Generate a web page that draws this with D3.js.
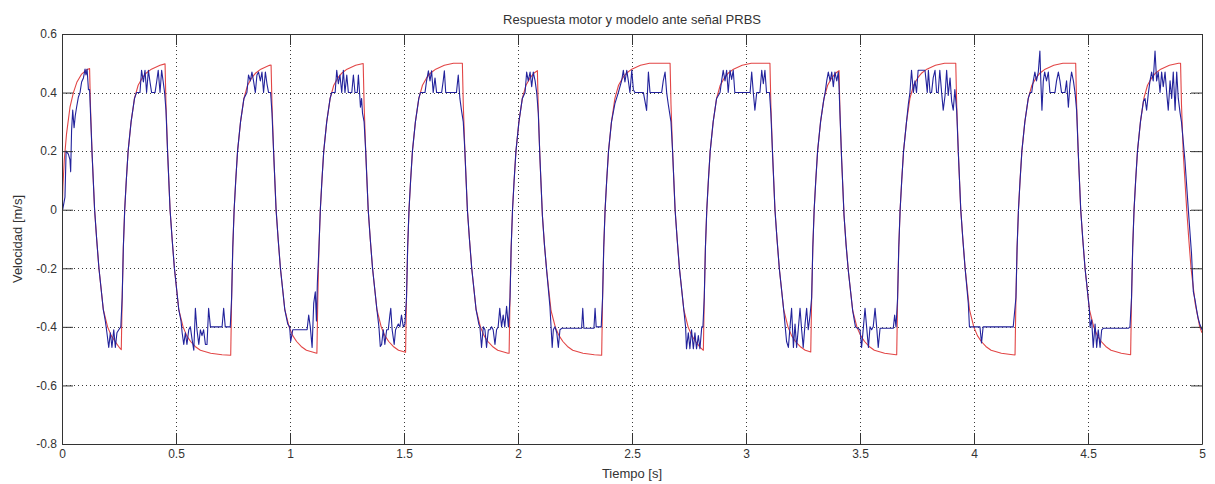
<!DOCTYPE html>
<html>
<head>
<meta charset="utf-8">
<script src="https://cdn.jsdelivr.net/npm/d3@7"></script>
<style>
  html, body { margin: 0; padding: 0; background: #fff; }
  svg { display: block; }
  text { font-family: "Liberation Sans", Arial, Helvetica, sans-serif; fill: #333; }
</style>
</head>
<body>
<svg id="chart" width="1215" height="484"></svg>
<script>
// Axis ticks and labels
const xTicks = [0, 0.5, 1, 1.5, 2, 2.5, 3, 3.5, 4, 4.5, 5];
const xTickLabels = ["0", "0.5", "1", "1.5", "2", "2.5", "3", "3.5", "4", "4.5", "5"];
const yTicks = [-0.8, -0.6, -0.4, -0.2, 0, 0.2, 0.4, 0.6];
const yTickLabels = ["-0.8", "-0.6", "-0.4", "-0.2", "0", "0.2", "0.4", "0.6"];

const titleText = "Respuesta motor y modelo ante señal PRBS";
const xLabelText = "Tiempo [s]";
const yLabelText = "Velocidad [m/s]";

// Model response [time s, speed m/s]
const modelo = [
  [0,-0.03],[0.004,0.08],[0.01,0.17],[0.02,0.26],[0.035,0.35],[0.05,0.4],[0.065,0.435],[0.085,0.462],[0.105,0.476],[0.121,0.482],
  [0.125,0.35],[0.132,0.19],[0.143,0],[0.152,-0.1],[0.162,-0.2],[0.181,-0.34],[0.2,-0.4],[0.216,-0.43],[0.233,-0.45],[0.253,-0.472],[0.26,-0.478],
  [0.264,-0.3],[0.269,-0.13],[0.275,0],[0.282,0.1],[0.29,0.2],[0.303,0.3],[0.318,0.38],[0.334,0.425],[0.352,0.45],[0.37,0.467],[0.392,0.48],[0.43,0.493],[0.452,0.498],
  [0.456,0.36],[0.463,0.2],[0.474,0],[0.483,-0.1],[0.493,-0.2],[0.512,-0.34],[0.531,-0.4],[0.547,-0.43],[0.564,-0.45],[0.584,-0.467],[0.607,-0.48],[0.652,-0.49],[0.702,-0.495],[0.74,-0.497],
  [0.744,-0.3],[0.749,-0.13],[0.755,0],[0.762,0.1],[0.77,0.2],[0.783,0.3],[0.798,0.38],[0.814,0.425],[0.832,0.45],[0.85,0.467],[0.872,0.48],[0.91,0.493],[0.917,0.494],
  [0.921,0.36],[0.928,0.2],[0.939,0],[0.948,-0.1],[0.958,-0.2],[0.977,-0.34],[0.996,-0.4],[1.012,-0.43],[1.029,-0.45],[1.049,-0.467],[1.072,-0.48],[1.117,-0.49],[1.118,-0.49],
  [1.122,-0.3],[1.127,-0.13],[1.133,0],[1.14,0.1],[1.148,0.2],[1.161,0.3],[1.176,0.38],[1.192,0.425],[1.21,0.45],[1.228,0.467],[1.25,0.48],[1.288,0.493],[1.321,0.499],
  [1.325,0.36],[1.332,0.2],[1.343,0],[1.352,-0.1],[1.362,-0.2],[1.381,-0.34],[1.4,-0.4],[1.416,-0.43],[1.433,-0.45],[1.453,-0.467],[1.476,-0.48],[1.507,-0.487],
  [1.511,-0.3],[1.516,-0.13],[1.522,0],[1.529,0.1],[1.537,0.2],[1.55,0.3],[1.565,0.38],[1.581,0.425],[1.599,0.45],[1.617,0.467],[1.639,0.48],[1.677,0.493],[1.717,0.5],[1.756,0.5],
  [1.76,0.36],[1.767,0.2],[1.778,0],[1.787,-0.1],[1.797,-0.2],[1.816,-0.34],[1.835,-0.4],[1.851,-0.43],[1.868,-0.45],[1.888,-0.467],[1.911,-0.48],[1.956,-0.49],[1.961,-0.49],
  [1.965,-0.3],[1.97,-0.13],[1.976,0],[1.983,0.1],[1.991,0.2],[2.004,0.3],[2.019,0.38],[2.035,0.425],[2.053,0.45],[2.071,0.467],[2.085,0.475],
  [2.089,0.34],[2.096,0.18],[2.107,-0.02],[2.116,-0.12],[2.126,-0.21],[2.145,-0.345],[2.164,-0.402],[2.18,-0.43],[2.197,-0.45],[2.217,-0.467],[2.24,-0.48],[2.285,-0.49],[2.335,-0.495],[2.367,-0.497],
  [2.371,-0.3],[2.376,-0.13],[2.382,0],[2.389,0.1],[2.397,0.2],[2.41,0.3],[2.425,0.38],[2.441,0.425],[2.459,0.45],[2.477,0.467],[2.499,0.48],[2.537,0.493],[2.577,0.5],[2.667,0.5],
  [2.671,0.36],[2.678,0.2],[2.689,0],[2.698,-0.1],[2.708,-0.2],[2.727,-0.34],[2.746,-0.4],[2.762,-0.43],[2.779,-0.45],[2.799,-0.47],[2.813,-0.48],
  [2.817,-0.3],[2.822,-0.13],[2.828,0],[2.835,0.1],[2.843,0.2],[2.856,0.3],[2.871,0.38],[2.887,0.425],[2.905,0.45],[2.923,0.467],[2.945,0.48],[2.983,0.493],[3.023,0.5],[3.105,0.5],
  [3.109,0.36],[3.116,0.2],[3.127,0],[3.136,-0.1],[3.146,-0.2],[3.165,-0.34],[3.184,-0.4],[3.2,-0.43],[3.217,-0.45],[3.237,-0.467],[3.26,-0.48],[3.284,-0.486],
  [3.288,-0.3],[3.293,-0.13],[3.299,0],[3.306,0.1],[3.314,0.2],[3.327,0.3],[3.342,0.38],[3.358,0.425],[3.376,0.45],[3.394,0.467],[3.408,0.475],
  [3.412,0.34],[3.419,0.18],[3.43,-0.02],[3.439,-0.12],[3.449,-0.21],[3.468,-0.345],[3.487,-0.402],[3.503,-0.43],[3.52,-0.45],[3.54,-0.467],[3.563,-0.48],[3.608,-0.49],[3.658,-0.495],[3.661,-0.495],
  [3.665,-0.3],[3.67,-0.13],[3.676,0],[3.683,0.1],[3.691,0.2],[3.704,0.3],[3.719,0.38],[3.735,0.425],[3.753,0.45],[3.771,0.467],[3.793,0.48],[3.831,0.493],[3.871,0.5],[3.92,0.5],
  [3.924,0.36],[3.931,0.2],[3.942,0],[3.951,-0.1],[3.961,-0.2],[3.98,-0.34],[3.999,-0.4],[4.015,-0.43],[4.032,-0.45],[4.052,-0.467],[4.075,-0.48],[4.12,-0.49],[4.17,-0.495],[4.18,-0.496],
  [4.184,-0.3],[4.189,-0.13],[4.195,0],[4.202,0.1],[4.21,0.2],[4.223,0.3],[4.238,0.38],[4.254,0.425],[4.272,0.45],[4.29,0.467],[4.312,0.48],[4.35,0.493],[4.39,0.5],[4.446,0.5],
  [4.45,0.36],[4.457,0.2],[4.468,0],[4.477,-0.1],[4.487,-0.2],[4.506,-0.34],[4.525,-0.4],[4.541,-0.43],[4.558,-0.45],[4.578,-0.467],[4.601,-0.48],[4.646,-0.49],[4.687,-0.495],
  [4.691,-0.3],[4.696,-0.13],[4.702,0],[4.709,0.1],[4.717,0.2],[4.73,0.3],[4.745,0.38],[4.761,0.425],[4.779,0.45],[4.797,0.467],[4.819,0.48],[4.857,0.493],[4.897,0.5],[4.906,0.5],
  [4.91,0.36],[4.918,0.19],[4.933,0],[4.942,-0.1],[4.952,-0.2],[4.97,-0.32],[4.99,-0.4],[5.0,-0.42]
];

// Measured motor speed [time s, speed m/s]
const motor = [
  [0,0],[0.003,0],[0.013,0.043],[0.018,0.2],[0.028,0.19],[0.035,0.17],[0.038,0.13],[0.042,0.27],[0.047,0.34],[0.053,0.28],[0.058,0.32],[0.064,0.35],[0.072,0.385],[0.079,0.4],[0.086,0.436],[0.094,0.45],[0.101,0.48],[0.105,0.46],[0.11,0.48],[0.116,0.41],[0.121,0.41],
  [0.125,0.33],[0.132,0.19],[0.143,0],[0.152,-0.1],[0.162,-0.2],[0.181,-0.34],[0.19,-0.38],[0.197,-0.42],[0.205,-0.47],[0.212,-0.42],[0.219,-0.47],[0.227,-0.41],[0.234,-0.47],[0.241,-0.42],[0.249,-0.41],[0.258,-0.4],
  [0.264,-0.3],[0.269,-0.13],[0.275,0],[0.282,0.1],[0.29,0.2],[0.303,0.3],[0.318,0.38],[0.327,0.4],[0.342,0.4],[0.349,0.476],[0.357,0.436],[0.364,0.476],[0.371,0.4],[0.379,0.476],[0.386,0.436],[0.393,0.4],[0.408,0.4],[0.415,0.436],[0.422,0.476],[0.43,0.4],[0.437,0.476],[0.444,0.436],[0.45,0.4],
  [0.456,0.34],[0.463,0.2],[0.474,0],[0.483,-0.1],[0.493,-0.2],[0.512,-0.34],[0.522,-0.38],[0.527,-0.42],[0.534,-0.46],[0.541,-0.42],[0.548,-0.46],[0.556,-0.41],[0.563,-0.4],[0.57,-0.44],[0.578,-0.48],[0.585,-0.337],[0.592,-0.41],[0.6,-0.46],[0.607,-0.41],[0.614,-0.43],[0.621,-0.41],[0.629,-0.46],[0.636,-0.46],[0.643,-0.337],[0.651,-0.4],[0.702,-0.4],[0.709,-0.337],[0.716,-0.4],[0.738,-0.4],
  [0.744,-0.3],[0.749,-0.13],[0.755,0],[0.762,0.1],[0.77,0.2],[0.783,0.3],[0.798,0.38],[0.811,0.4],[0.818,0.46],[0.826,0.44],[0.833,0.47],[0.84,0.44],[0.848,0.4],[0.855,0.46],[0.862,0.47],[0.87,0.44],[0.877,0.47],[0.884,0.4],[0.892,0.47],[0.899,0.43],[0.906,0.4],[0.915,0.4],
  [0.921,0.33],[0.928,0.2],[0.939,0],[0.948,-0.1],[0.958,-0.2],[0.977,-0.34],[0.99,-0.39],[0.9985,-0.4],[1.003,-0.45],[1.012,-0.41],[1.075,-0.41],[1.082,-0.36],[1.089,-0.4],[1.097,-0.47],[1.104,-0.32],[1.111,-0.28],[1.116,-0.38],[1.12,-0.25],
  [1.127,-0.13],[1.133,0],[1.14,0.1],[1.148,0.2],[1.161,0.3],[1.176,0.38],[1.183,0.4],[1.198,0.4],[1.205,0.476],[1.212,0.43],[1.219,0.46],[1.227,0.4],[1.234,0.476],[1.241,0.4],[1.249,0.46],[1.256,0.4],[1.271,0.4],[1.278,0.46],[1.285,0.4],[1.295,0.4],[1.3,0.46],[1.305,0.4],[1.309,0.35],[1.314,0.38],[1.318,0.33],
  [1.325,0.3],[1.332,0.2],[1.343,0],[1.352,-0.1],[1.362,-0.2],[1.381,-0.34],[1.39,-0.4],[1.396,-0.467],[1.402,-0.46],[1.409,-0.41],[1.416,-0.46],[1.424,-0.41],[1.431,-0.41],[1.438,-0.36],[1.442,-0.337],[1.448,-0.41],[1.457,-0.46],[1.463,-0.41],[1.475,-0.39],[1.482,-0.4],[1.489,-0.36],[1.497,-0.4],[1.504,-0.39],
  [1.511,-0.3],[1.516,-0.13],[1.522,0],[1.529,0.1],[1.537,0.2],[1.55,0.3],[1.565,0.38],[1.572,0.4],[1.592,0.4],[1.599,0.44],[1.607,0.474],[1.614,0.44],[1.621,0.474],[1.628,0.4],[1.636,0.45],[1.643,0.4],[1.665,0.4],[1.672,0.44],[1.677,0.474],[1.683,0.4],[1.73,0.4],[1.738,0.46],[1.745,0.38],[1.752,0.34],
  [1.76,0.3],[1.767,0.2],[1.778,0],[1.787,-0.1],[1.797,-0.2],[1.816,-0.34],[1.828,-0.39],[1.833,-0.4],[1.84,-0.47],[1.848,-0.4],[1.855,-0.41],[1.862,-0.47],[1.87,-0.41],[1.877,-0.41],[1.884,-0.4],[1.891,-0.41],[1.899,-0.46],[1.906,-0.41],[1.913,-0.4],[1.92,-0.337],[1.928,-0.4],[1.935,-0.36],[1.942,-0.4],[1.95,-0.33],[1.958,-0.4],
  [1.965,-0.3],[1.97,-0.13],[1.976,0],[1.983,0.1],[1.991,0.2],[2.004,0.3],[2.019,0.38],[2.031,0.4],[2.038,0.47],[2.045,0.44],[2.053,0.47],[2.06,0.42],[2.067,0.47],[2.075,0.44],[2.082,0.4],
  [2.089,0.33],[2.096,0.18],[2.107,-0.02],[2.116,-0.12],[2.126,-0.21],[2.14,-0.33],[2.145,-0.4],[2.15,-0.47],[2.155,-0.41],[2.162,-0.4],[2.17,-0.42],[2.177,-0.47],[2.184,-0.41],[2.192,-0.405],[2.279,-0.405],[2.284,-0.337],[2.289,-0.405],[2.333,-0.405],[2.338,-0.337],[2.343,-0.4],[2.365,-0.4],
  [2.371,-0.3],[2.376,-0.13],[2.382,0],[2.389,0.1],[2.397,0.2],[2.41,0.3],[2.425,0.362],[2.44,0.4],[2.455,0.442],[2.462,0.476],[2.469,0.436],[2.477,0.476],[2.484,0.44],[2.491,0.4],[2.499,0.476],[2.506,0.41],[2.513,0.4],[2.55,0.4],[2.557,0.37],[2.564,0.339],[2.572,0.47],[2.579,0.4],[2.63,0.4],[2.637,0.44],[2.645,0.47],[2.652,0.4],[2.659,0.36],
  [2.671,0.3],[2.678,0.2],[2.689,0],[2.698,-0.1],[2.708,-0.2],[2.727,-0.34],[2.735,-0.4],[2.739,-0.475],[2.747,-0.42],[2.754,-0.475],[2.761,-0.41],[2.769,-0.475],[2.776,-0.42],[2.783,-0.475],[2.791,-0.43],[2.798,-0.475],[2.806,-0.4],[2.811,-0.4],
  [2.817,-0.3],[2.822,-0.13],[2.828,0],[2.835,0.1],[2.843,0.2],[2.856,0.3],[2.871,0.38],[2.886,0.4],[2.893,0.44],[2.9,0.476],[2.908,0.44],[2.915,0.476],[2.922,0.4],[2.93,0.476],[2.937,0.445],[2.944,0.476],[2.951,0.4],[3.018,0.4],[3.025,0.47],[3.032,0.4],[3.039,0.34],[3.047,0.4],[3.061,0.4],[3.069,0.476],[3.076,0.43],[3.083,0.476],[3.09,0.4],[3.103,0.4],
  [3.109,0.33],[3.116,0.2],[3.127,0],[3.136,-0.1],[3.146,-0.2],[3.165,-0.34],[3.172,-0.4],[3.178,-0.45],[3.186,-0.47],[3.193,-0.4],[3.2,-0.337],[3.208,-0.47],[3.215,-0.39],[3.222,-0.47],[3.229,-0.41],[3.237,-0.337],[3.244,-0.41],[3.251,-0.47],[3.259,-0.39],[3.266,-0.337],[3.273,-0.41],[3.281,-0.36],
  [3.288,-0.3],[3.293,-0.13],[3.299,0],[3.306,0.1],[3.314,0.2],[3.327,0.3],[3.34,0.37],[3.347,0.4],[3.354,0.44],[3.361,0.47],[3.369,0.44],[3.376,0.47],[3.383,0.42],[3.39,0.47],[3.398,0.44],[3.405,0.47],[3.408,0.42],
  [3.412,0.33],[3.419,0.18],[3.43,-0.02],[3.439,-0.12],[3.449,-0.21],[3.468,-0.345],[3.48,-0.4],[3.5,-0.41],[3.507,-0.47],[3.515,-0.4],[3.522,-0.337],[3.529,-0.4],[3.537,-0.47],[3.544,-0.4],[3.551,-0.41],[3.558,-0.4],[3.566,-0.337],[3.573,-0.4],[3.58,-0.47],[3.588,-0.405],[3.646,-0.405],[3.652,-0.36],[3.658,-0.4],
  [3.665,-0.3],[3.67,-0.13],[3.676,0],[3.683,0.1],[3.691,0.2],[3.704,0.3],[3.712,0.36],[3.719,0.4],[3.726,0.476],[3.734,0.4],[3.741,0.44],[3.748,0.4],[3.755,0.476],[3.785,0.476],[3.79,0.44],[3.795,0.4],[3.8,0.476],[3.807,0.4],[3.814,0.4],[3.821,0.45],[3.829,0.476],[3.836,0.4],[3.843,0.4],[3.85,0.476],[3.858,0.4],[3.865,0.34],[3.873,0.39],[3.88,0.476],[3.887,0.39],[3.895,0.45],[3.902,0.37],[3.909,0.34],[3.916,0.41],
  [3.924,0.34],[3.931,0.2],[3.942,0],[3.951,-0.1],[3.961,-0.2],[3.975,-0.32],[3.98,-0.4],[4.026,-0.4],[4.033,-0.455],[4.04,-0.4],[4.172,-0.4],
  [4.184,-0.3],[4.189,-0.13],[4.195,0],[4.202,0.1],[4.21,0.2],[4.223,0.3],[4.238,0.38],[4.246,0.4],[4.253,0.4],[4.26,0.44],[4.267,0.47],[4.274,0.44],[4.282,0.47],[4.289,0.542],[4.293,0.44],[4.298,0.34],[4.304,0.44],[4.31,0.47],[4.318,0.44],[4.326,0.47],[4.333,0.4],[4.355,0.4],[4.362,0.44],[4.37,0.47],[4.377,0.44],[4.384,0.4],[4.399,0.4],[4.406,0.44],[4.414,0.35],[4.421,0.43],[4.428,0.47],[4.436,0.44],[4.443,0.4],
  [4.45,0.34],[4.457,0.2],[4.468,0],[4.477,-0.1],[4.487,-0.2],[4.506,-0.34],[4.509,-0.4],[4.516,-0.376],[4.523,-0.47],[4.531,-0.39],[4.538,-0.47],[4.545,-0.41],[4.553,-0.47],[4.56,-0.41],[4.567,-0.405],[4.677,-0.405],[4.684,-0.4],
  [4.691,-0.3],[4.696,-0.13],[4.702,0],[4.709,0.1],[4.717,0.2],[4.73,0.3],[4.743,0.37],[4.75,0.38],[4.757,0.34],[4.765,0.4],[4.772,0.44],[4.779,0.47],[4.786,0.44],[4.794,0.542],[4.801,0.44],[4.808,0.47],[4.816,0.4],[4.823,0.47],[4.83,0.42],[4.838,0.47],[4.845,0.4],[4.852,0.34],[4.86,0.44],[4.867,0.38],[4.874,0.47],[4.882,0.34],[4.889,0.47],[4.896,0.38],[4.904,0.33],
  [4.91,0.3],[4.925,0.17],[4.94,0],[4.954,-0.15],[4.962,-0.28],[4.97,-0.31],[4.976,-0.34],[4.983,-0.37],[4.99,-0.39],[4.995,-0.4],[5.0,-0.41]
];

// Layout
const plot = { left: 62, right: 1202, top: 34, bottom: 444 };
const tickLen = 11;

const svg = d3.select("#chart");

const x = d3.scaleLinear().domain([0, 5]).range([plot.left, plot.right]);
const y = d3.scaleLinear().domain([-0.8, 0.6]).range([plot.bottom, plot.top]);

// Axes background
svg.append("rect")
  .attr("x", plot.left).attr("y", plot.top)
  .attr("width", plot.right - plot.left).attr("height", plot.bottom - plot.top)
  .attr("fill", "#fff");

// Dotted grid
const grid = svg.append("g").attr("stroke", "#3a3a3a").attr("stroke-width", 1)
  .attr("stroke-dasharray", "1,3").attr("fill", "none");
grid.selectAll("line.gx")
  .data(xTicks.filter(t => t > 0 && t < 5))
  .join("line").attr("class", "gx")
  .attr("x1", d => Math.round(x(d)) + 0.5).attr("x2", d => Math.round(x(d)) + 0.5)
  .attr("y1", plot.top).attr("y2", plot.bottom);
grid.selectAll("line.gy")
  .data(yTicks.filter(t => t > -0.8 && t < 0.6))
  .join("line").attr("class", "gy")
  .attr("y1", d => Math.round(y(d)) + 0.5).attr("y2", d => Math.round(y(d)) + 0.5)
  .attr("x1", plot.left).attr("x2", plot.right);

// Data lines: model underneath, measurement on top
svg.append("clipPath").attr("id", "plotClip")
  .append("rect")
  .attr("x", plot.left).attr("y", plot.top)
  .attr("width", plot.right - plot.left).attr("height", plot.bottom - plot.top);

const line = d3.line().x(d => x(d[0])).y(d => y(d[1]));

const lines = svg.append("g").attr("clip-path", "url(#plotClip)").attr("fill", "none");
lines.append("path")
  .datum(modelo)
  .attr("d", line)
  .attr("stroke", "#e24646")
  .attr("stroke-width", 1.1)
  .attr("stroke-linejoin", "round");
lines.append("path")
  .datum(motor)
  .attr("d", line)
  .attr("stroke", "#23239c")
  .attr("stroke-width", 1.1)
  .attr("stroke-linejoin", "round");

// Axes with inward ticks on all four sides
const xFmt = (d, i) => xTickLabels[i];
const yFmt = (d, i) => yTickLabels[i];

const axB = svg.append("g").attr("transform", `translate(0,${plot.bottom})`)
  .call(d3.axisBottom(x).tickValues(xTicks).tickFormat(xFmt).tickSizeInner(-tickLen).tickSizeOuter(0).tickPadding(5));
const axT = svg.append("g").attr("transform", `translate(0,${plot.top})`)
  .call(d3.axisTop(x).tickValues(xTicks).tickFormat("").tickSizeInner(-tickLen).tickSizeOuter(0));
const axL = svg.append("g").attr("transform", `translate(${plot.left},0)`)
  .call(d3.axisLeft(y).tickValues(yTicks).tickFormat(yFmt).tickSizeInner(-tickLen).tickSizeOuter(0).tickPadding(5));
const axR = svg.append("g").attr("transform", `translate(${plot.right},0)`)
  .call(d3.axisRight(y).tickValues(yTicks).tickFormat("").tickSizeInner(-tickLen).tickSizeOuter(0));

[axB, axT, axL, axR].forEach(g => {
  g.select(".domain").attr("stroke", "#333").attr("stroke-width", 1);
  g.selectAll(".tick line").attr("stroke", "#333");
  g.selectAll(".tick text")
    .attr("font-family", "'Liberation Sans', Arial, Helvetica, sans-serif")
    .attr("font-size", 12)
    .attr("fill", "#333");
});

// Title and axis labels
svg.append("text")
  .attr("x", (plot.left + plot.right) / 2).attr("y", 24)
  .attr("text-anchor", "middle").attr("font-size", 13)
  .text(titleText);
svg.append("text")
  .attr("x", (plot.left + plot.right) / 2).attr("y", 478)
  .attr("text-anchor", "middle").attr("font-size", 13)
  .text(xLabelText);
svg.append("text")
  .attr("transform", `translate(22,${(plot.top + plot.bottom) / 2}) rotate(-90)`)
  .attr("text-anchor", "middle").attr("font-size", 13)
  .text(yLabelText);
</script>
</body>
</html>
